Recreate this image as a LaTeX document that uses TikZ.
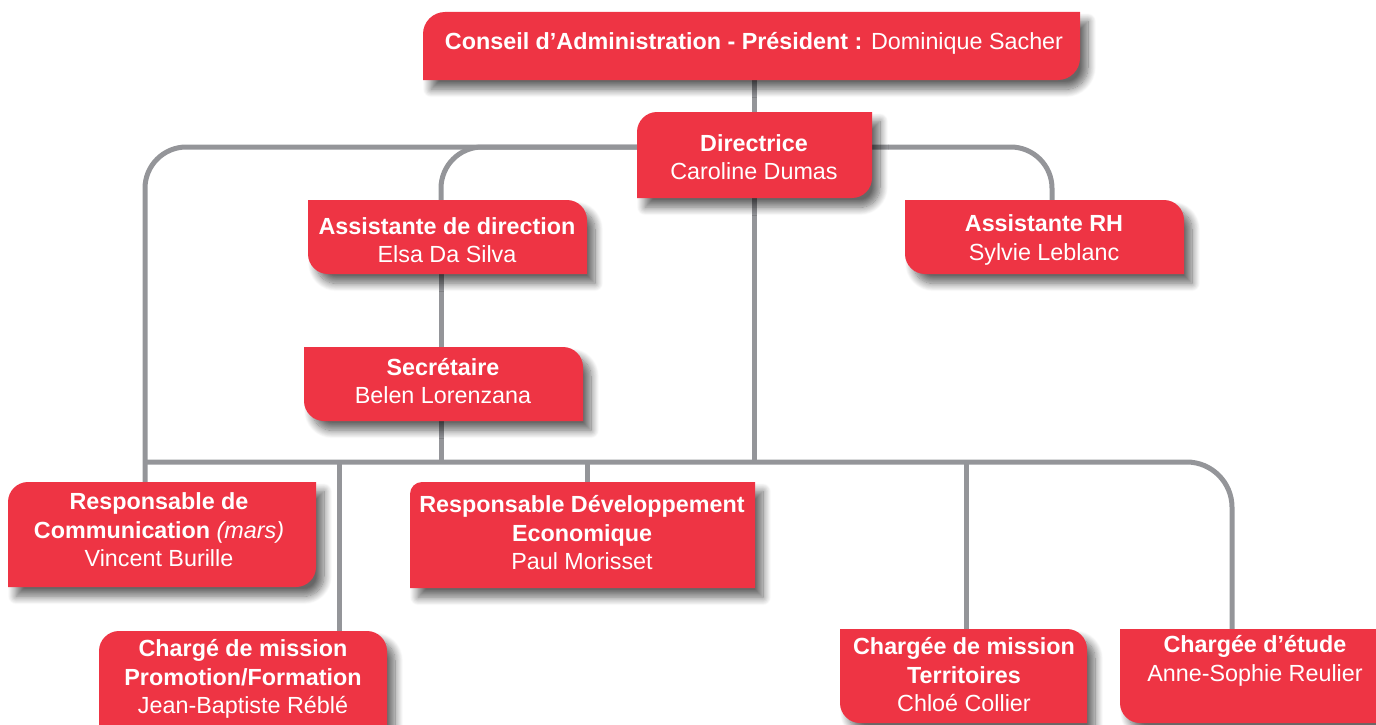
\documentclass[tikz,border=0pt]{standalone}
\usepackage{fontspec}
\setmainfont{Liberation Sans}
\usetikzlibrary{fit,shadows.blur}
\definecolor{boxred}{RGB}{238,52,68}
\definecolor{linegray}{RGB}{148,149,153}
\pgfdeclarelayer{background}
\pgfsetlayers{background,main}
\tikzset{
  conn/.style={draw=linegray, line width=3.75pt},
  txt/.style={text=white, align=center, font=\fontsize{17.5}{21.4}\selectfont, inner sep=0pt},
  boxshadow/.style={blur shadow={shadow xshift=6pt, shadow yshift=-7pt, shadow blur radius=6pt, shadow blur steps=12, shadow opacity=60}}
}
% #1 name, #2 x1, #3 y1, #4 x2, #5 y2, #6 rtl, #7 rtr, #8 rbr, #9 rbl
\newcommand\orgbox[9]{%
  \fill[boxred, boxshadow]
    (#2,{#3+#6}) .. controls (#2,{#3+0.45*#6}) and ({#2+0.45*#6},#3) .. ({#2+#6},#3)
    -- ({#4-#7},#3) .. controls ({#4-0.45*#7},#3) and (#4,{#3+0.45*#7}) .. (#4,{#3+#7})
    -- (#4,{#5-#8}) .. controls (#4,{#5-0.45*#8}) and ({#4-0.45*#8},#5) .. ({#4-#8},#5)
    -- ({#2+#9},#5) .. controls ({#2+0.45*#9},#5) and (#2,{#5-0.45*#9}) .. (#2,{#5-#9}) -- cycle;
  \node[fit={(#2,#3) (#4,#5)}, inner sep=0pt] (#1) {};
}
\begin{document}
\begin{tikzpicture}[x=0.75pt, y=-0.75pt]
\useasboundingbox (0,0) rectangle (1376,724);
\clip (0,0) rectangle (1376,724);

% boxes
\orgbox{conseil}{423}{12}{1080}{80}{22}{0}{22}{0}
\orgbox{dir}{637}{112}{872}{198}{20}{0}{20}{0}
\orgbox{asdir}{308}{200}{587}{274}{0}{20}{0}{20}
\orgbox{rh}{905}{200}{1184}{274}{0}{20}{0}{20}
\orgbox{sec}{304}{347}{583}{421}{0}{20}{0}{20}
\orgbox{comm}{8}{482}{316}{587}{20}{0}{20}{0}
\orgbox{dev}{410}{482}{755}{588}{12}{0}{0}{0}
\orgbox{promo}{99}{631}{387}{740}{20}{20}{0}{0}
\orgbox{terr}{840}{629}{1087}{723}{0}{20}{0}{20}
\orgbox{etude}{1120}{629}{1395}{723}{0}{20}{0}{20}

% texts
\node[txt] (t-conseil) at (754,43) {\textbf{Conseil d’Administration - Président :} Dominique Sacher};
\node[txt] (t-dir) at (754,157) {\textbf{Directrice}\\Caroline Dumas};
\node[txt] (t-asdir) at (447,240) {\textbf{Assistante de direction}\\Elsa Da Silva};
\node[txt] (t-rh) at (1044,240) {\textbf{Assistante RH}\\Sylvie Leblanc};
\node[txt] (t-sec) at (443,381) {\textbf{Secrétaire}\\Belen Lorenzana};
\node[txt] (t-comm) at (159,530) {\textbf{Responsable de}\\\textbf{Communication} \textit{(mars)}\\Vincent Burille};
\node[txt] (t-dev) at (582,533) {\textbf{Responsable Développement}\\\textbf{Economique}\\Paul Morisset};
\node[txt] (t-promo) at (243,679) {\textbf{Chargé de mission}\\\textbf{Promotion/Formation}\\Jean-Baptiste Réblé};
\node[txt] (t-terr) at (964,675) {\textbf{Chargée de mission}\\\textbf{Territoires}\\Chloé Collier};
\node[txt] (t-etude) at (1255,661) {\textbf{Chargée d’étude}\\Anne-Sophie Reulier};

% helper coordinates
\coordinate (hub) at (0,147);
\coordinate (bus) at (0,462);
\coordinate (colL) at (145,0);
\coordinate (colA) at (441,0);
\coordinate (colR) at (1052,0);
\coordinate (colP) at (339,0);
\coordinate (colD) at (587,0);
\coordinate (colT) at (966,0);
\coordinate (colE) at (1232,0);

\begin{pgfonlayer}{background}
\draw[conn] (dir.center |- conseil.center) -- (dir.center);
\draw[conn, rounded corners=31pt] (dir.center |- hub) -| (colL |- bus) -- (colL |- comm.north);
\draw[conn, rounded corners=31pt] (dir.center |- hub) -| (colA |- asdir.center);
\draw[conn] (colA |- asdir.center) -- (colA |- sec.center);
\draw[conn] (colA |- sec.center) -- (colA |- bus);
\draw[conn, rounded corners=31pt] (dir.center |- hub) -| (colR |- rh.center);
\draw[conn] (dir.center) -- (dir.center |- bus);
\draw[conn, rounded corners=34pt] (colL |- bus) -| (colE |- etude.center);
\draw[conn] (colP |- bus) -- (colP |- promo.north);
\draw[conn] (colD |- bus) -- (colD |- dev.north);
\draw[conn] (colT |- bus) -- (colT |- terr.north);
\end{pgfonlayer}
\end{tikzpicture}
\end{document}
